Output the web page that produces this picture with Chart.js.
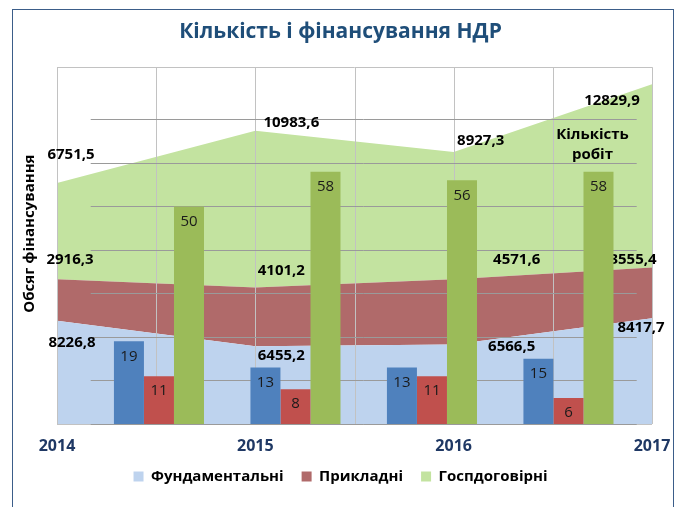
<!DOCTYPE html>
<html lang="uk">
<head>
<meta charset="utf-8">
<title>Кількість і фінансування НДР</title>
<script src="https://cdn.jsdelivr.net/npm/chart.js@4.4.1/dist/chart.umd.min.js"></script>
<style>
  html, body { margin: 0; padding: 0; background: #fff; }
  #wrap { position: relative; width: 681px; height: 507px; overflow: hidden; }
  #chart { display: block; }
  #frame { position: absolute; left: 12px; top: 9px; width: 660px; height: 600px;
           border: 1px solid #3b5d89; pointer-events: none; }
</style>
</head>
<body>
<div id="wrap">
  <canvas id="chart" width="681" height="507"></canvas>
  <div id="frame"></div>
</div>
<script>
// фінансування, тис. грн (площі)
var years = [2014, 2015, 2016, 2017];
var fundamental = [8226.8, 6455.2, 6566.5, 8417.7];
var applied = [2916.3, 4101.2, 4571.6, 3555.4];
var contract = [6751.5, 10983.6, 8927.3, 12829.9];

// кількість робіт (стовпці)
var countGroups = [0, 1, 2, 3];
var countFundamental = [19, 13, 13, 15];
var countApplied = [11, 8, 11, 6];
var countContract = [50, 58, 56, 58];
var countTicks = [0, 10, 20, 30, 40, 50, 60, 70];

var seriesNames = ['Фундаментальні', 'Прикладні', 'Госпдоговірні'];
var yTitle = 'Обсяг фінансування';

Chart.defaults.font.family = "'Open Sans', sans-serif";

function pts(xs, ys) {
  return xs.map(function (x, i) { return { x: x, y: ys[i] }; });
}
function fmt(v) {
  return v.toFixed(1).replace('.', ',');
}

function area(i, values, color, fill) {
  return {
    type: 'line', label: seriesNames[i], data: pts(years, values),
    backgroundColor: color, borderColor: color, borderWidth: 0,
    pointRadius: 0, fill: fill, order: 2, xAxisID: 'x', yAxisID: 'y'
  };
}
// стовпці групуємо вручну: кожна серія на своїй прихованій осі, зсунутій на ширину стовпця
function bars(i, values, color) {
  return {
    type: 'bar', label: seriesNames[i] + ' (кількість)', data: pts(countGroups, values),
    backgroundColor: color, order: 1, xAxisID: 'xb' + i, yAxisID: 'yb',
    grouped: false, maxBarThickness: 30
  };
}
var barMin = -0.747, barMax = 3.612, barSlot = 0.22;
function barAxis(i) {
  var shift = (i - 1) * barSlot;
  return {
    type: 'linear', display: false, offset: false, grid: { offset: false },
    min: barMin - shift, max: barMax - shift,
    afterBuildTicks: function (s) { s.ticks = countGroups.map(function (v) { return { value: v }; }); }
  };
}

// зсуви підписів значень відносно точок площ (dx, dy)
var labelShift = [
  [[15, 22], [26, 10], [58, 2], [-11, 10]],
  [[13, -20], [26, -17], [63, -20], [-19, -8]],
  [[14, -28], [36, -8], [27, -11], [-40, 16]]
];

var overAreas = {
  id: 'overAreas',
  afterDatasetDraw: function (chart, args) {
    if (args.index !== 0) return;
    var ctx = chart.ctx, a = chart.chartArea;
    var x = chart.scales.x, xb = chart.scales.xb1, yb = chart.scales.yb;
    ctx.save();
    ctx.lineWidth = 1;
    // вертикальна сітка
    ctx.strokeStyle = '#c2c2c2';
    x.ticks.forEach(function (t) {
      var px = Math.round(x.getPixelForValue(t.value)) + 0.5;
      ctx.beginPath(); ctx.moveTo(px, a.top); ctx.lineTo(px, a.bottom); ctx.stroke();
    });
    ctx.beginPath();
    ctx.moveTo(a.left, Math.round(a.top) + 0.5); ctx.lineTo(a.right, Math.round(a.top) + 0.5);
    ctx.moveTo(a.left, Math.round(a.bottom) + 0.5); ctx.lineTo(a.right, Math.round(a.bottom) + 0.5);
    ctx.stroke();
    // горизонтальна сітка осі кількості
    var x0 = xb.getPixelForValue(countGroups[0] - 0.5);
    var x1 = xb.getPixelForValue(countGroups[countGroups.length - 1] + 0.5);
    ctx.strokeStyle = '#9a9a9a';
    yb.ticks.forEach(function (t) {
      var py = Math.round(yb.getPixelForValue(t.value)) + 0.5;
      ctx.beginPath(); ctx.moveTo(x0, py); ctx.lineTo(x1, py); ctx.stroke();
    });
    // підписи фінансування
    ctx.fillStyle = '#000';
    ctx.font = "bold 15px 'Open Sans', sans-serif";
    ctx.textAlign = 'center';
    ctx.textBaseline = 'middle';
    for (var d = 0; d < 3; d++) {
      var meta = chart.getDatasetMeta(d);
      var vals = chart.data.datasets[d].data;
      meta.data.forEach(function (p, i) {
        var s = labelShift[d][i];
        ctx.fillText(fmt(vals[i].y), p.x + s[0], p.y + s[1]);
      });
    }
    ctx.restore();
  },
  afterDatasetsDraw: function (chart) {
    var ctx = chart.ctx, a = chart.chartArea;
    ctx.save();
    ctx.textAlign = 'center';
    ctx.textBaseline = 'middle';
    ctx.fillStyle = '#1a1a1a';
    ctx.font = "15px 'Open Sans', sans-serif";
    for (var d = 3; d < 6; d++) {
      var meta = chart.getDatasetMeta(d);
      var vals = chart.data.datasets[d].data;
      meta.data.forEach(function (b, i) {
        ctx.fillText(String(vals[i].y), b.x, b.y + 15);
      });
    }
    var last = chart.getDatasetMeta(5).data[countGroups.length - 1];
    ctx.fillStyle = '#000';
    ctx.font = "bold 15px 'Open Sans', sans-serif";
    ctx.fillText('Кількість', last.x - 6, last.y - 37);
    ctx.fillText('робіт', last.x - 6, last.y - 17);
    // назва осі фінансування
    ctx.translate(chart.scales.y.left + 30, (a.top + a.bottom) / 2 - 12);
    ctx.rotate(-Math.PI / 2);
    ctx.fillText(yTitle, 0, 0);
    ctx.restore();
  }
};

new Chart(document.getElementById('chart'), {
  type: 'line',
  data: {
    datasets: [
      area(0, fundamental, '#bed3ee', 'origin'),
      area(1, applied, '#b06a6a', '-1'),
      area(2, contract, '#c3e3a0', '-1'),
      bars(0, countFundamental, '#4f81bd'),
      bars(1, countApplied, '#c0504d'),
      bars(2, countContract, '#9bbb59')
    ]
  },
  options: {
    responsive: false,
    animation: false,
    devicePixelRatio: 1,
    layout: { padding: { left: 0, right: 0, top: 0, bottom: 13 } },
    plugins: {
      title: {
        display: true,
        text: 'Кількість і фінансування НДР',
        color: '#1f4e79',
        font: { size: 21, weight: 'bold' },
        padding: { top: 19, bottom: 23 }
      },
      legend: {
        position: 'bottom',
        labels: {
          boxWidth: 10, boxHeight: 10, padding: 18, color: '#000',
          font: { size: 15, weight: 'bold' },
          filter: function (item) { return item.datasetIndex < 3; }
        }
      },
      tooltip: { enabled: false }
    },
    scales: {
      x: {
        type: 'linear', position: 'bottom', min: 2014, max: 2017,
        grid: { display: false }, border: { display: false },
        ticks: {
          stepSize: 0.5, autoSkip: false, maxRotation: 0, padding: 5,
          color: '#1f3864', font: { size: 16, weight: 'bold' },
          callback: function (v) { return years.indexOf(v) >= 0 ? String(v) : ''; }
        },
        afterFit: function (s) { s.height = 27; }
      },
      y: {
        type: 'linear', position: 'left', stacked: true, min: 1000, max: 26000,
        grid: { display: false }, border: { display: false },
        ticks: { display: false },
        afterFit: function (s) { s.width = 57; }
      },
      xb0: barAxis(0),
      xb1: barAxis(1),
      xb2: barAxis(2),
      yb: {
        type: 'linear', position: 'right', min: 0, max: 82, stacked: false,
        grid: { display: false }, border: { display: false },
        ticks: { display: false },
        afterBuildTicks: function (s) { s.ticks = countTicks.map(function (v) { return { value: v }; }); },
        afterFit: function (s) { s.width = 29; }
      }
    }
  },
  plugins: [overAreas]
});
</script>
</body>
</html>
